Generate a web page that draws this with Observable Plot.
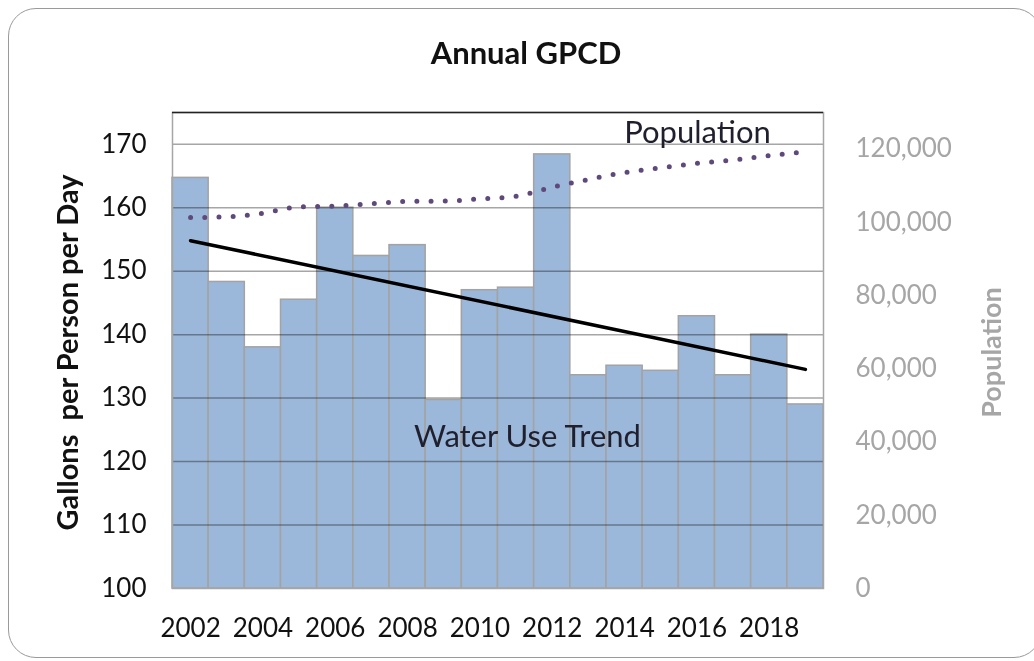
<!DOCTYPE html>
<html><head><meta charset="utf-8">
<script src="https://cdn.jsdelivr.net/npm/d3@7"></script>
<script src="https://cdn.jsdelivr.net/npm/@observablehq/plot@0.6"></script>
<style>
body{margin:0;background:#fff;font-family:Lato,sans-serif;}
#wrap{position:relative;width:1034px;height:661px;overflow:hidden;background:#fff;}
#border{position:absolute;left:8px;top:8px;width:1034px;height:650px;border:1.5px solid #9a9a9a;border-radius:28px;box-sizing:border-box;pointer-events:none;}
#cut{position:absolute;left:14px;top:-28px;font:28px Lato,sans-serif;line-height:normal;color:#333;white-space:nowrap;}
</style></head><body>
<div id="wrap"><div id="cut">Table 5: Water Use Trend</div><div id="chart"></div><div id="border"></div></div>
<script>
const years = [2002,2003,2004,2005,2006,2007,2008,2009,2010,2011,2012,2013,2014,2015,2016,2017,2018,2019];
const gpcd = [164.7,148.3,138.0,145.5,160.0,152.4,154.1,129.7,147.0,147.4,168.4,133.6,135.1,134.3,142.9,133.6,140.0,129.0];
const population = [101300,101500,102500,104200,104400,105100,105700,105800,106400,107100,109600,111700,113600,114900,116100,117000,118200,119300];
const gpcdTicks = [100,110,120,130,140,150,160,170];
const popTicks = [0,20000,40000,60000,80000,100000,120000];
const yearTicks = [2002,2004,2006,2008,2010,2012,2014,2016,2018];
const gpcdDomain = [100,175];
const popDomain = [0,130000];

const data = years.map((year,i)=>({year, gpcd:gpcd[i], pop:population[i]}));
const toLeft = p => gpcdDomain[0] + (p - popDomain[0])/(popDomain[1]-popDomain[0])*(gpcdDomain[1]-gpcdDomain[0]);
const fromLeft = v => popDomain[0] + (v - gpcdDomain[0])/(gpcdDomain[1]-gpcdDomain[0])*(popDomain[1]-popDomain[0]);
const fmt = d3.format(",");

const plot = Plot.plot({
  width:1034, height:661,
  marginLeft:172, marginRight:211, marginTop:112, marginBottom:73,
  style:{fontFamily:"Lato, sans-serif", background:"transparent", overflow:"visible", color:"#111"},
  x:{type:"linear", domain:[years[0]-0.5, years[years.length-1]+0.5]},
  y:{domain:gpcdDomain},
  marks:[
    Plot.rectY(data,{x1:d=>d.year-0.5, x2:d=>d.year+0.5, y1:gpcdDomain[0], y2:"gpcd", fill:"#9bb7d9", stroke:"#a3a3a3", strokeWidth:1.5}),
    Plot.ruleY(gpcdTicks.slice(1), {stroke:"#a6a6a6", strokeWidth:1.5, mixBlendMode:"multiply"}),
    Plot.frame({stroke:"#a6a6a6", strokeWidth:1.5}),
    Plot.ruleY([gpcdDomain[1]], {stroke:"#222", strokeWidth:1.5}),
    Plot.line(data,{x:"year", y:d=>toLeft(d.pop), curve:"monotone-x", stroke:"#5f497a", strokeWidth:5, strokeDasharray:"0 14.2", strokeLinecap:"round"}),
    Plot.linearRegressionY(data,{x:"year", y:"gpcd", ci:0, stroke:"#000", strokeWidth:3.5}),
    Plot.axisY(gpcdTicks,{anchor:"left", tickSize:0, tickPadding:26, fontSize:26, fill:"#111", label:null}),
    Plot.axisY(popTicks.map(toLeft),{anchor:"right", tickSize:0, tickPadding:32, fontSize:26, fill:"#a6a6a6", label:null, tickFormat:v=>fmt(Math.round(fromLeft(v)))}),
    Plot.axisX(yearTicks,{anchor:"bottom", tickSize:0, tickPadding:30, fontSize:26, fill:"#111", label:null, tickFormat:d=>String(d)}),
    Plot.text(["Annual GPCD"],{frameAnchor:"top", dx:28, dy:-49, lineAnchor:"bottom", fontSize:31, fontWeight:"bold", fill:"#111"}),
    Plot.text(["Gallons  per Person per Day"],{frameAnchor:"left", textAnchor:"middle", dx:-104, dy:2, rotate:-90, fontSize:29, fontWeight:"bold", fill:"#111"}),
    Plot.text(["Population"],{frameAnchor:"right", textAnchor:"middle", dx:169, dy:2, rotate:-90, fontSize:27, fontWeight:"bold", fill:"#a6a6a6"}),
    Plot.text(["Population"],{frameAnchor:"top-right", textAnchor:"middle", dx:-126, dy:30, lineAnchor:"bottom", fontSize:31, fill:"#1f1f2e"}),
    Plot.text(["Water Use Trend"],{frameAnchor:"bottom-left", textAnchor:"middle", dx:355, dy:-142, lineAnchor:"bottom", fontSize:31, fill:"#1f1f2e"})
  ]
});
document.getElementById("chart").appendChild(plot);
</script>
</body></html>
